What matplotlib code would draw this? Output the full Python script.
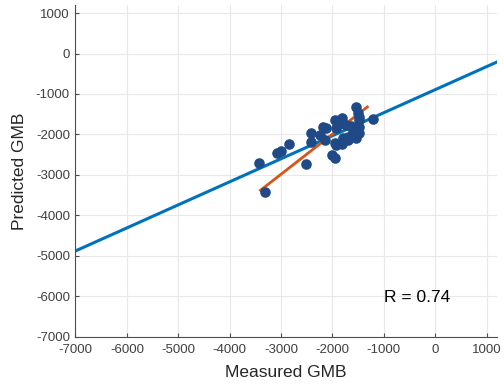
import numpy as np
import matplotlib.pyplot as plt

plt.rcParams['font.family'] = ['Liberation Sans', 'DejaVu Sans']
plt.rcParams['axes.unicode_minus'] = False

# measured vs predicted GMB
measured = [-3320, -3430, -3072, -3008, -2853, -2517, -2425, -2425, -2186, -2121,
            -2153, -2004, -1946, -1959, -1810, -1926, -1732, -1926, -1817, -1701,
            -1604, -1538, -1507, -1474, -1474, -1538, -1215, -1810, -1959, -1798,
            -1701, -1474, -1538, -1604, -2250, -1870, -1640, -1480]
predicted = [-3419, -2717, -2455, -2414, -2233, -2742, -1976, -2184, -1828, -1853,
             -2142, -2512, -2579, -1648, -1591, -1853, -1771, -2265, -2248, -2142,
             -1936, -1319, -1482, -1648, -1813, -2100, -1623, -1729, -2200, -2100,
             -2060, -1976, -1920, -2000, -2010, -1700, -1800, -1560]

# overall regression line and fit through the samples
blue_x = [-7000, 1200]
blue_y = [-4880, -210]
fit_x = [-3400, -1320]
fit_y = [-3380, -1320]

r_text = 'R = 0.74'

fig = plt.figure(figsize=(5.04, 3.85), dpi=100)
ax = fig.add_axes([0.1498, 0.1255, 0.836, 0.8615])

ax.plot(blue_x, blue_y, color='#0072BD', lw=2.2, zorder=2)
ax.plot(fit_x, fit_y, color='#D95319', lw=2.0, zorder=3)
ax.scatter(measured, predicted, s=58, color='#1F4A85', zorder=4, linewidths=0)

ax.set_xlim(-7000, 1200)
ax.set_ylim(-7000, 1200)
ax.set_xticks(np.arange(-7000, 1001, 1000))
ax.set_yticks(np.arange(-7000, 1001, 1000))

ax.grid(True, color='#e8e8e8', lw=0.8, zorder=0)
ax.set_axisbelow(True)
for s in ['top', 'right']:
    ax.spines[s].set_visible(False)
for s in ['left', 'bottom']:
    ax.spines[s].set_color('#4d4d4d')
    ax.spines[s].set_linewidth(0.8)

ax.tick_params(direction='in', length=3, width=0.8, color='#4d4d4d',
               labelcolor='#404040', labelsize=9.5)
ax.tick_params(axis='y', pad=4)
ax.tick_params(axis='x', pad=5)

ax.set_xlabel('Measured GMB', fontsize=12.5, color='#262626', labelpad=7)
ax.set_ylabel('Predicted GMB', fontsize=12.5, color='#262626', labelpad=6)

ax.text(-1000, -6020, r_text, fontsize=12.5, color='black', va='center', ha='left')

fig.savefig('out.png', dpi=100)
